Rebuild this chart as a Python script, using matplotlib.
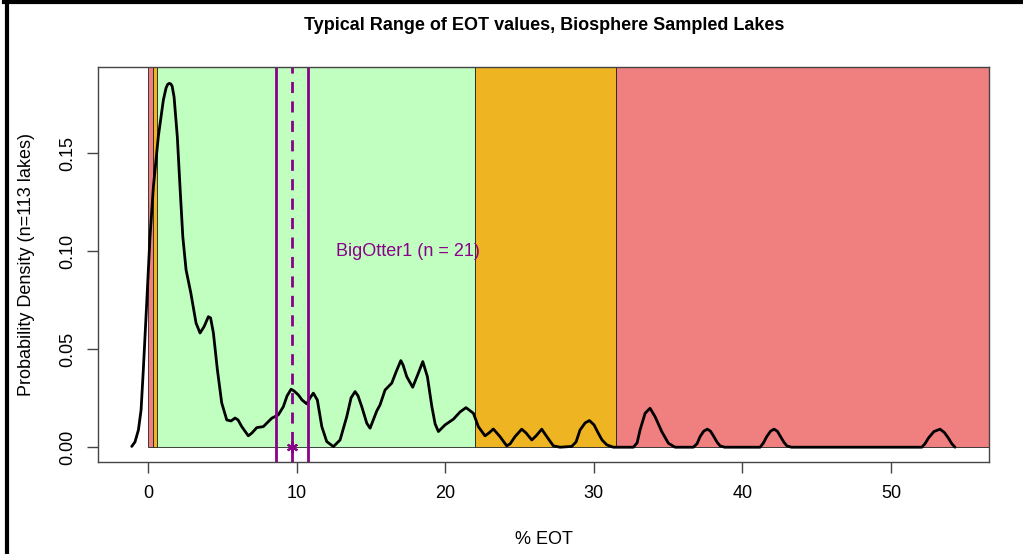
import numpy as np
import matplotlib
matplotlib.use("Agg")
import matplotlib.pyplot as plt
from matplotlib.patches import Rectangle
from matplotlib.lines import Line2D

plt.rcParams["font.family"] = ["Liberation Sans", "DejaVu Sans"]

# density curve (x = % EOT, y = density)
eot_x = [-1.12, -0.90, -0.67, -0.49, -0.34, -0.22, -0.11, 0.11, 0.34, 0.67,
         1.01, 1.19, 1.30, 1.41, 1.51, 1.60, 1.73, 1.95, 2.13, 2.32, 2.54, 2.86,
         3.21, 3.48, 3.75, 4.04, 4.19, 4.38, 4.65, 4.94, 5.28, 5.57,
         5.84, 6.04, 6.29, 6.73, 6.98, 7.30, 7.74, 8.06, 8.31, 8.75,
         9.09, 9.34, 9.61, 9.81, 10.10, 10.35, 10.67, 10.89, 11.11, 11.38,
         11.68, 12.01, 12.46, 12.91, 13.36, 13.65, 13.92, 14.12, 14.37, 14.71,
         14.93, 15.38, 15.60, 15.94, 16.39, 16.68, 17.00, 17.15, 17.40, 17.80,
         18.18, 18.48, 18.79, 19.09, 19.31, 19.53, 19.98, 20.54, 20.99, 21.39,
         21.89, 22.22, 22.67, 22.94, 23.23, 23.68, 24.13, 24.36, 24.69, 25.14,
         25.43, 25.82, 26.11, 26.49, 26.83, 27.27, 27.72, 28.51, 28.80, 29.07,
         29.41, 29.70, 30.01, 30.30, 30.55, 30.87, 31.31, 32.66, 32.91, 33.11,
         33.45, 33.78, 34.12, 34.57, 35.02, 35.47, 36.70, 36.95, 37.15, 37.40,
         37.64, 37.85, 38.05, 38.30, 38.50, 38.80, 41.19, 41.40, 41.64, 41.90,
         42.13, 42.35, 42.54, 42.80, 42.99, 43.30, 52.08, 52.30, 52.53, 52.90,
         53.31, 53.60, 53.87, 54.10, 54.32]
density = [0.0004, 0.0027, 0.0088, 0.019, 0.0394, 0.057, 0.0736, 0.1074, 0.133, 0.1585,
           0.1772, 0.1833, 0.1852, 0.1857, 0.1854, 0.1843, 0.1789, 0.1585, 0.133, 0.1074, 0.0905, 0.0787,
           0.0634, 0.0583, 0.0615, 0.0666, 0.066, 0.0583, 0.0394, 0.0226, 0.0139, 0.0134,
           0.0149, 0.0139, 0.0105, 0.0058, 0.0073, 0.0100, 0.0105, 0.0129, 0.0148, 0.0165,
           0.0207, 0.0262, 0.0296, 0.0287, 0.0267, 0.0241, 0.0221, 0.0252, 0.0276, 0.0241,
           0.0105, 0.0029, 0.0003, 0.0037, 0.0156, 0.0252, 0.0284, 0.0262, 0.0207, 0.0122,
           0.0097, 0.0185, 0.0216, 0.0292, 0.0327, 0.0384, 0.0442, 0.0420, 0.0360, 0.0306,
           0.0378, 0.0437, 0.0360, 0.0207, 0.0119, 0.0080, 0.0114, 0.0143, 0.0180, 0.0202,
           0.0173, 0.0105, 0.0058, 0.0073, 0.0093, 0.0054, 0.0007, 0.0017, 0.0054, 0.0092,
           0.0073, 0.0037, 0.0058, 0.0092, 0.0054, 0.0007, 0.0, 0.0004, 0.0027, 0.0088,
           0.0124, 0.0136, 0.0114, 0.0071, 0.0037, 0.0012, 0.0, 0.0, 0.0022, 0.0088,
           0.0173, 0.0199, 0.0156, 0.0080, 0.0020, 0.0, 0.0, 0.0018, 0.0054, 0.0082,
           0.0092, 0.0082, 0.0058, 0.0025, 0.0007, 0.0, 0.0, 0.0020, 0.0054, 0.0082,
           0.0092, 0.0082, 0.0058, 0.0025, 0.0007, 0.0, 0.0, 0.0018, 0.0047, 0.0080,
           0.0092, 0.0075, 0.0047, 0.0018, 0.0]

# EOT category bands (start, end, colour)
band_start = [0.0, 0.3, 0.55, 22.0, 31.5]
band_end = [0.3, 0.55, 22.0, 31.5, 200.0]
band_color = ["#F08080", "#EEB422", "#C1FFC1", "#EEB422", "#F08080"]

# lake of interest
lake_name = "BigOtter1"
lake_n = 21
lake_low, lake_mid, lake_high = 8.6, 9.67, 10.77

purple = "#8B008B"

fig = plt.figure(figsize=(10.23, 5.54), dpi=100)
ax = fig.add_axes([0.0961, 0.1666, 0.8710, 0.7119])

for x0, x1, c in zip(band_start, band_end, band_color):
    ax.add_patch(Rectangle((x0, 0), x1 - x0, 1, facecolor=c, edgecolor="#222222",
                           linewidth=0.6, zorder=1))

ax.plot(eot_x, density, color="black", linewidth=2, zorder=3,
        solid_capstyle="round", solid_joinstyle="round")

ax.axvline(lake_low, color=purple, linewidth=2, zorder=4)
ax.axvline(lake_high, color=purple, linewidth=2, zorder=4)
ax.axvline(lake_mid, color=purple, linewidth=2, linestyle=(0, (4, 3)), zorder=4)
ax.plot([lake_mid], [0], marker=(6, 2, 0), color=purple, markersize=8,
        markeredgewidth=1.5, zorder=5, clip_on=False)
ax.text(17.45, 0.1, f"{lake_name} (n = {lake_n})", color=purple, fontsize=13,
        ha="center", va="center", zorder=5)

ax.set_xlim(-3.37, 56.63)
ax.set_ylim(-0.0074, 0.1939)
ax.set_xticks([0, 10, 20, 30, 40, 50])
ax.set_yticks([0.0, 0.05, 0.10, 0.15])
ax.set_yticklabels(["0.00", "0.05", "0.10", "0.15"], rotation=90, va="center")
ax.tick_params(axis="both", direction="out", length=8, width=1, labelsize=13,
               color="#444444")
ax.tick_params(axis="x", pad=9)
ax.tick_params(axis="y", pad=8)
for s in ax.spines.values():
    s.set_color("#444444")
    s.set_linewidth(1)
    s.set_zorder(6)

ax.set_title("Typical Range of EOT values, Biosphere Sampled Lakes", fontsize=13,
             fontweight="bold", pad=27)
ax.set_xlabel("% EOT", fontsize=13, labelpad=21)
ax.set_ylabel("Probability Density (n=113 lakes)", fontsize=13, labelpad=17)

# frame around the figure
fig.add_artist(Line2D([0.004, 1.0], [0.996, 0.996], transform=fig.transFigure,
                      color="black", linewidth=3))
fig.add_artist(Line2D([0.0065, 0.0065], [0.0, 0.996], transform=fig.transFigure,
                      color="black", linewidth=3))

fig.savefig("out.png", dpi=100)
